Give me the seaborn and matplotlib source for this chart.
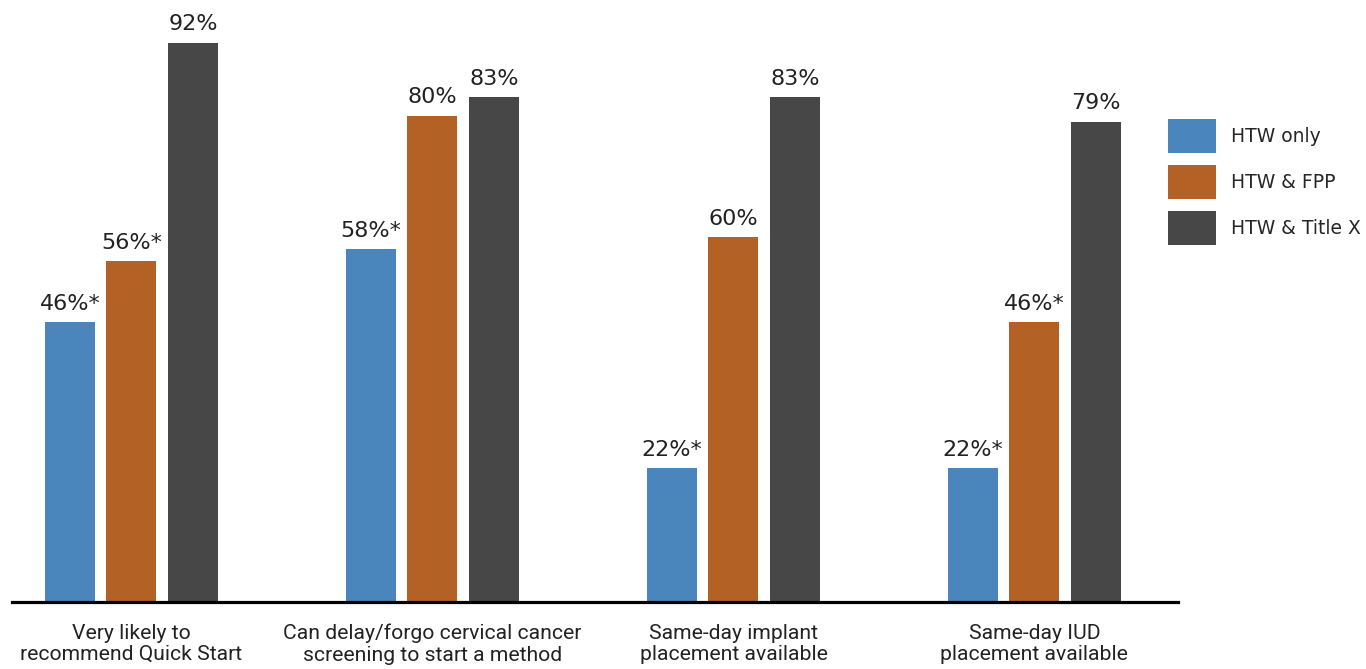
import matplotlib
matplotlib.use("Agg")
import matplotlib.pyplot as plt
import seaborn as sns
import pandas as pd
from matplotlib.patches import Patch

categories = [
    "Very likely to\nrecommend Quick Start",
    "Can delay/forgo cervical cancer\nscreening to start a method",
    "Same-day implant\nplacement available",
    "Same-day IUD\nplacement available",
]
groups = ["HTW only", "HTW & FPP", "HTW & Title X"]
htw_only = [46, 58, 22, 22]
htw_fpp = [56, 80, 60, 46]
htw_titlex = [92, 83, 83, 79]
labels_htw_only = ["46%*", "58%*", "22%*", "22%*"]
labels_htw_fpp = ["56%*", "80%", "60%", "46%*"]
labels_htw_titlex = ["92%", "83%", "83%", "79%"]
colors = ["#4a86bb", "#b36124", "#474747"]

rows = []
for g, vals in zip(groups, [htw_only, htw_fpp, htw_titlex]):
    for c, v in zip(categories, vals):
        rows.append({"category": c, "group": g, "value": v})
df = pd.DataFrame(rows)

sns.set_style("white")
plt.rcParams["font.family"] = ["DejaVu Sans"]

fig = plt.figure(figsize=(13.66, 6.69), dpi=100)
ax = fig.add_axes([12 / 1366, 67 / 669, (1178 - 12) / 1366, 602 / 669])

sns.barplot(data=df, x="category", y="value", hue="group", hue_order=groups,
            order=categories, palette=colors, width=0.613, gap=0.187,
            saturation=1, linewidth=0, legend=False, ax=ax)

for cont, labs in zip(ax.containers, [labels_htw_only, labels_htw_fpp, labels_htw_titlex]):
    ax.bar_label(cont, labels=labs, padding=6, fontsize=16, color="#222222",
                 family=["DejaVu Sans"])

ax.set_xlim(-0.397, 3.477)
ax.set_ylim(0, 99)
ax.set_xlabel("")
ax.set_ylabel("")
ax.set_yticks([])
for s in ["left", "right", "top"]:
    ax.spines[s].set_visible(False)
ax.spines["bottom"].set_linewidth(2.3)
ax.spines["bottom"].set_color("black")
ax.tick_params(axis="x", length=0, pad=15.5)
for t in ax.get_xticklabels():
    t.set_fontfamily(["Roboto", "DejaVu Sans"])
    t.set_fontsize(15.2)
    t.set_color("#222222")
    t.set_linespacing(1.18)

handles = [Patch(facecolor=c, edgecolor="none") for c in colors]
fig.legend(handles, groups, loc="upper left", bbox_to_anchor=(1151 / 1366, 1 - 102 / 669),
           frameon=False, handlelength=2.55, handleheight=2.44,
           labelspacing=0.62, handletextpad=0.8,
           prop={"family": ["DejaVu Sans"], "size": 13.5})

fig.savefig("out.png", dpi=100, facecolor="white")
